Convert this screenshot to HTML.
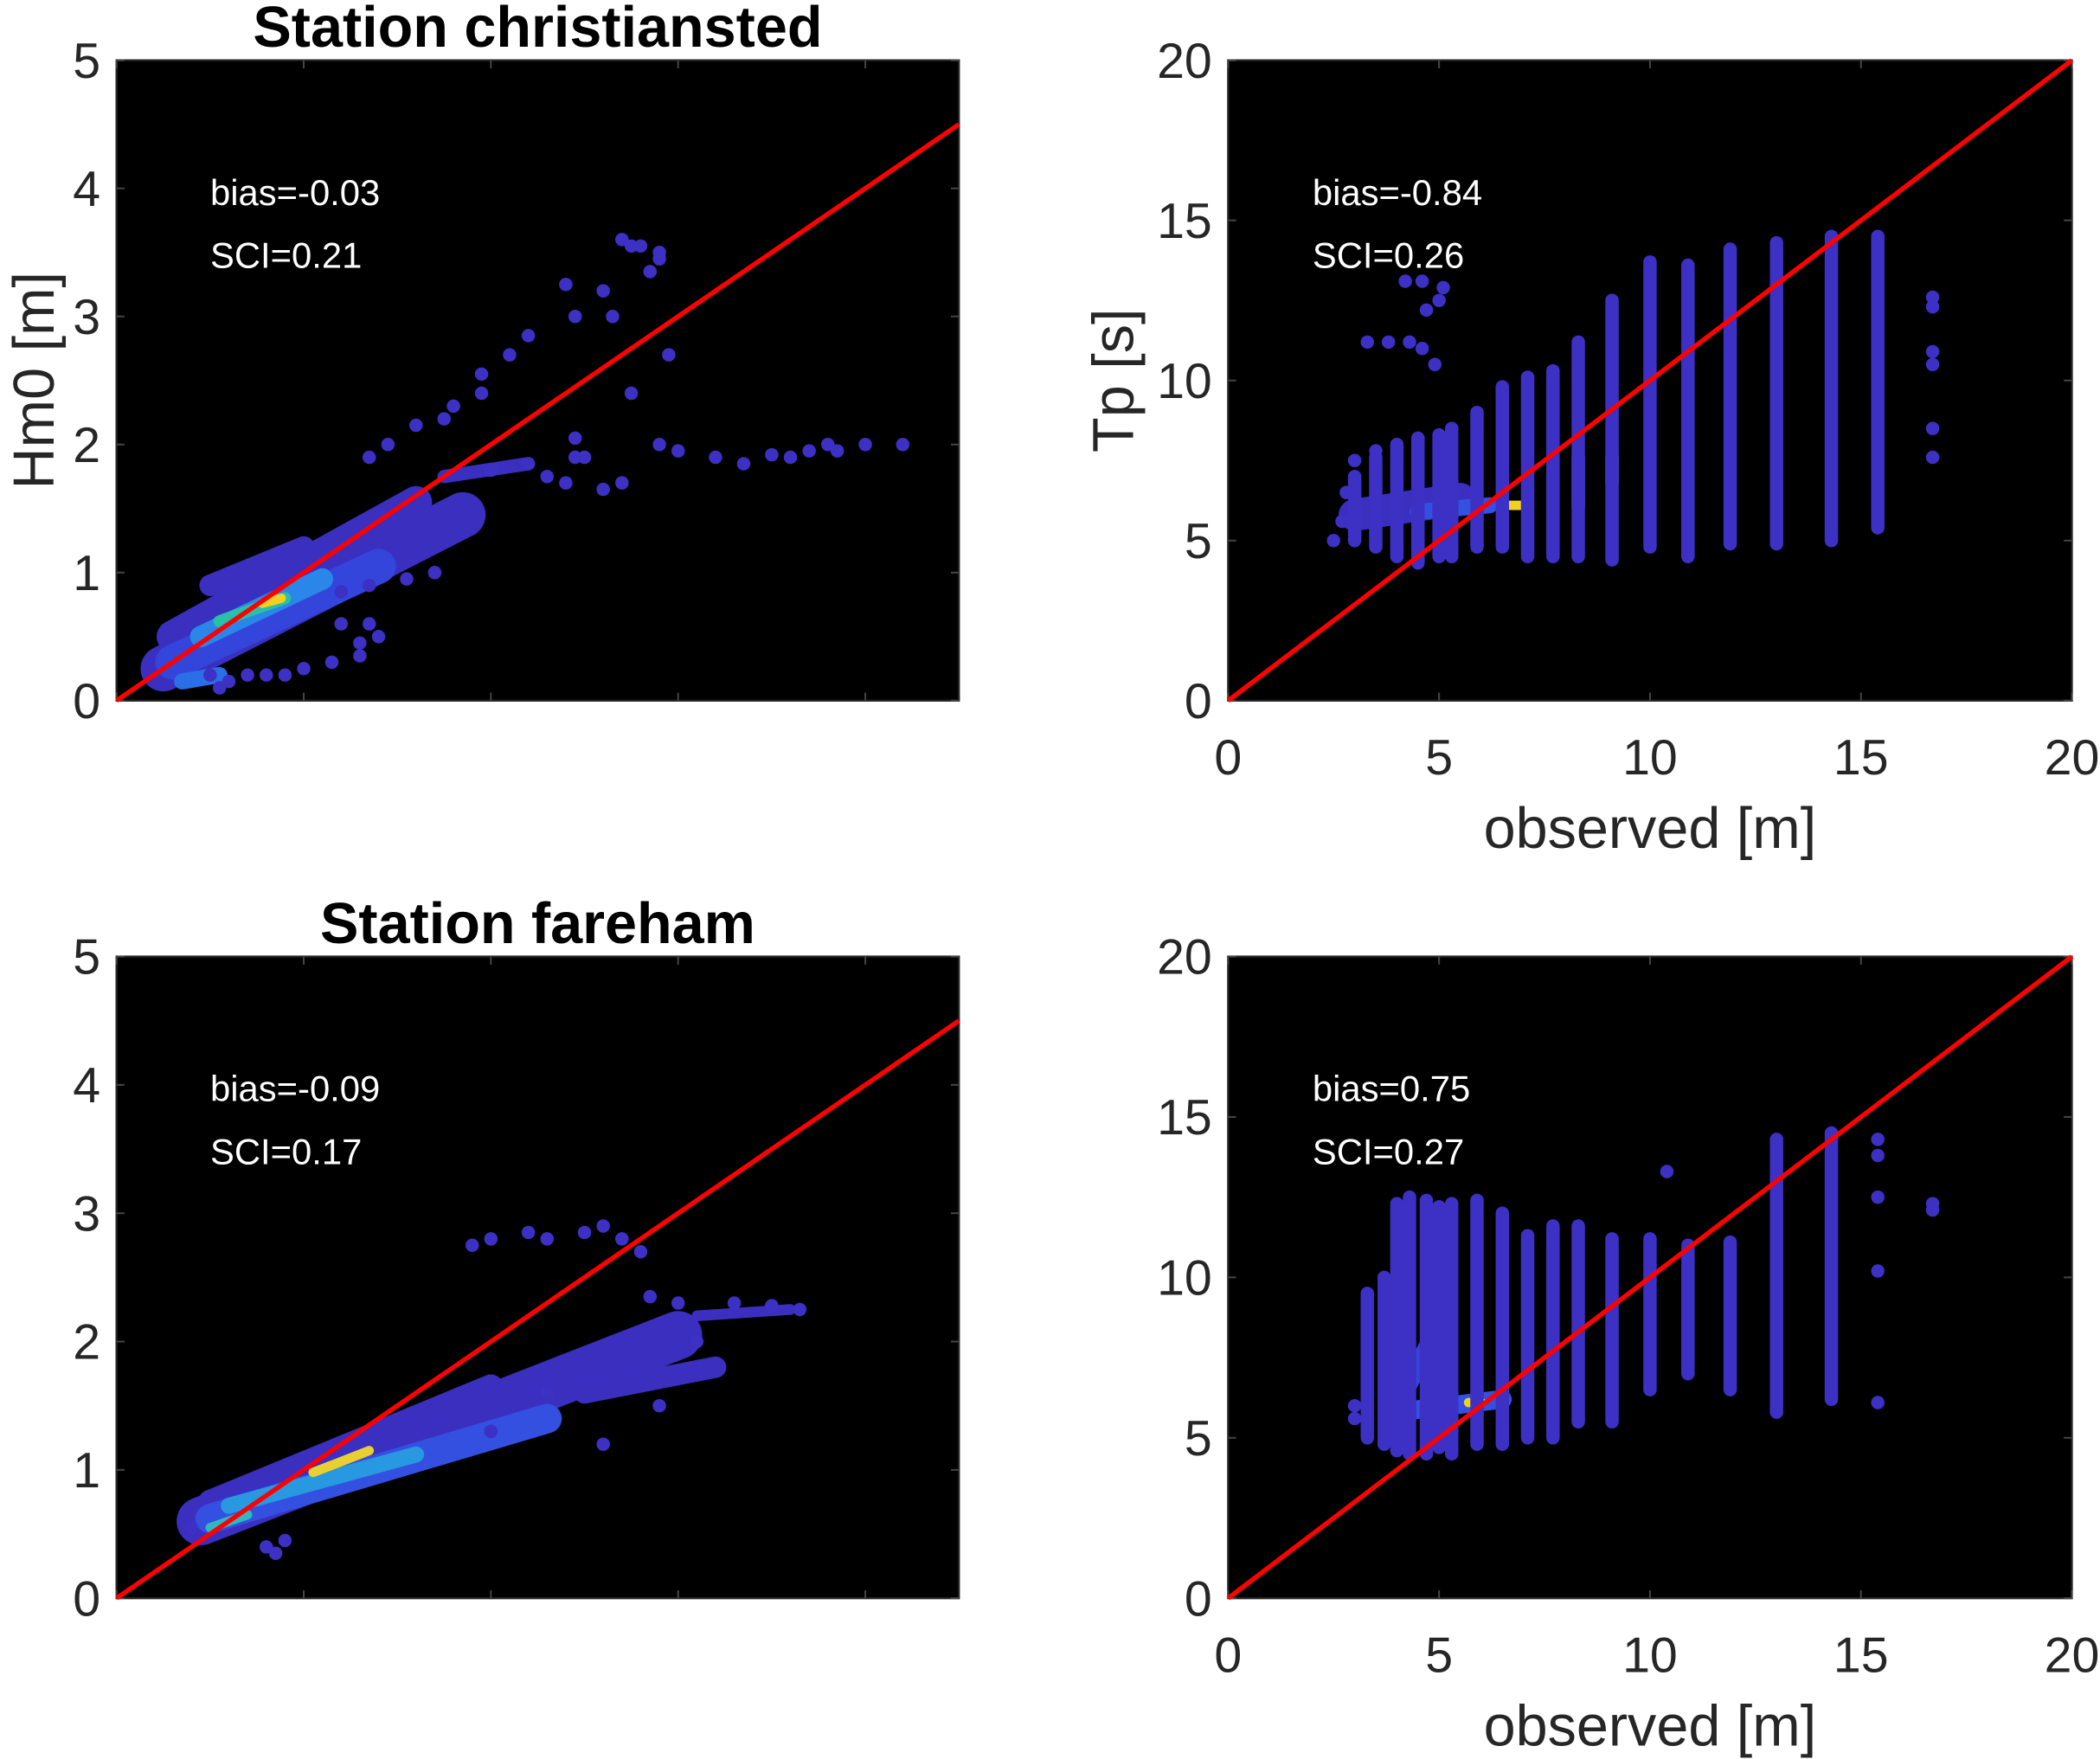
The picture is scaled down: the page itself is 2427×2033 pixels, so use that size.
<!DOCTYPE html>
<html><head><meta charset="utf-8"><style>
html,body{margin:0;padding:0;background:#fff;}
svg{display:block;font-family:"Liberation Sans",Arial,sans-serif;}
</style></head><body>
<svg id="fig" width="2427" height="2033" viewBox="0 0 1568 1313" preserveAspectRatio="none" xmlns="http://www.w3.org/2000/svg"></svg>
<script>
// ---- data ----
const hsPoints1 = [[2.5,1.9],[2.7,1.7],[2.9,2.0],[3.0,1.95],[3.2,1.9],[3.35,1.85],[3.5,1.92],[3.6,1.9],[3.7,1.95],[3.8,2.0],[3.85,1.95],[4.0,2.0],[4.2,2.0],[2.2,1.85],[2.3,1.75],[2.4,1.7],[2.6,1.65],[2.0,1.8],
 [2.7,3.6],[2.75,3.55],[2.8,3.55],[2.9,3.45],[2.9,3.5],[2.85,3.35],[2.6,3.2],[2.4,3.25],[2.45,3.0],[2.65,3.0],[2.95,2.7],[2.75,2.4],[2.2,2.85],[2.1,2.7],[1.95,2.55],[1.95,2.4],[1.8,2.3],[1.75,2.2],[1.6,2.15],[1.45,2.0],[1.35,1.9],[2.45,2.05],[2.45,1.9],[0.9,0.2],[1.0,0.25],[0.8,0.2],[0.7,0.2],[1.15,0.3],[1.3,0.35],[1.35,0.6],[1.3,0.45],[0.55,0.1],[0.6,0.15],[1.4,0.5],[1.2,0.6],[0.5,0.2],[1.55,0.95],[1.35,0.9],[1.2,0.85],[1.7,1.0]];
const hsBands1 = [[0.25,0.25,1.85,1.45,34,'#3b2fc0'],[0.3,0.5,1.6,1.55,24,'#3b2fc0'],[0.5,0.9,1.0,1.2,16,'#3b2fc0'],[0.3,0.3,1.4,1.05,26,'#3345db'],[0.45,0.5,1.1,0.95,16,'#2a86e8'],[0.55,0.62,0.9,0.8,9,'#27c0a8'],[0.78,0.76,0.88,0.8,7,'#f0d020'],[1.75,1.75,2.2,1.85,10,'#3b2fc0'],[0.35,0.15,0.55,0.2,12,'#2a6ee8']];
const hsPoints2 = [[2.0,2.8],[1.9,2.75],[2.2,2.85],[2.3,2.8],[2.5,2.85],[2.6,2.9],[2.7,2.8],[2.8,2.7],[2.85,2.35],[3.0,2.3],[3.3,2.3],[3.5,2.28],[3.65,2.25],[0.8,0.4],[0.85,0.35],[0.9,0.45],[2.0,1.3],[2.3,1.6],[2.6,1.2],[2.9,1.5],[3.1,2.0],[0.4,0.55]];
const hsBands2 = [[0.45,0.6,3.0,2.05,36,'#3b2fc0'],[0.5,0.75,2.0,1.65,18,'#3b2fc0'],[2.5,1.6,3.2,1.8,16,'#3b2fc0'],[0.5,0.62,2.3,1.4,22,'#3350e0'],[0.6,0.72,1.6,1.12,12,'#2898e0'],[1.05,0.98,1.35,1.15,7,'#e8d030'],[0.5,0.55,0.7,0.65,7,'#30b8c0'],[3.1,2.2,3.6,2.25,8,'#3b2fc0']];
const tpCols1 = [[5.3,4.5,8.5],[5.9,4.8,9.0],[6.5,4.8,9.8],[7.1,4.5,10.1],[7.7,4.5,10.3],[8.3,4.5,11.2],[9.1,4.4,12.5],[10.0,4.8,13.7],[10.9,4.5,13.6],[11.9,4.9,14.1],[13.0,4.9,14.3],[14.3,5.0,14.5],[15.4,5.4,14.5],
 [3.0,5.0,7.0],[3.5,4.8,7.6],[4.0,4.5,8.0],[4.5,4.3,8.2],[5.0,4.5,8.3]];
const tpPoints1 = [[16.7,12.6],[16.7,12.3],[16.7,10.9],[16.7,10.5],[16.7,8.5],[16.7,7.6],[2.5,5.0],[3.3,11.2],[3.8,11.2],[4.3,11.2],[4.6,11.0],[4.9,10.5],[4.2,13.1],[4.6,13.1],[5.1,12.9],[5.0,12.5],[4.7,12.2],[3.5,7.8],[3.0,7.5],[2.8,6.5],[2.7,5.6]];
const tpBlobs1 = [[3.0,5.8,5.5,6.3,24,'#3b2fc0'],[4.5,5.9,6.2,6.1,12,'#3350e0'],[8.3,6.0,8.3,7.6,10,'#2a86e8'],[9.1,6.8,9.1,7.6,10,'#2fb0c8'],[6.5,6.1,7.1,6.1,7,'#f0d020']];
const tpCols2 = [[5.3,4.5,12.3],[5.9,4.8,12.4],[6.5,4.8,12.0],[7.1,5.0,11.3],[7.7,5.0,11.6],[8.3,5.5,11.6],[9.1,5.5,11.2],[10.0,6.5,11.2],[10.9,7.0,11.0],[11.9,6.5,11.1],[13.0,5.8,14.3],[14.3,6.2,14.5],
 [3.3,5.0,9.5],[3.7,4.8,10.0],[4.0,4.6,12.3],[4.3,4.5,12.5],[4.7,4.5,12.4],[5.0,4.7,12.2]];
const tpPoints2 = [[15.4,6.1],[15.4,10.2],[15.4,12.5],[15.4,14.3],[15.4,13.8],[16.7,12.3],[16.7,12.1],[10.4,13.3],[3.0,6.0],[3.0,5.6]];
const tpBlobs2 = [[4.0,5.8,6.5,6.2,14,'#3350e0'],[4.2,6.5,4.8,8.0,14,'#3345db'],[5.7,6.1,6.0,6.1,7,'#f0d020']];
const hsTicks = [0,1,2,3,4,5];
const tpTicks = [0,5,10,15,20];

const NS='http://www.w3.org/2000/svg';
const svg=document.getElementById('fig');
function el(tag,attrs,parent){const e=document.createElementNS(NS,tag);for(const k in attrs)e.setAttribute(k,attrs[k]);(parent||svg).appendChild(e);return e;}
function txt(s,attrs){const t=el('text',attrs);t.textContent=s;return t;}

function panel(name,L,R,T,B,xmax,ymax,yt,xt,xlabels,bands,cols,pts,bias,sci,ylabel,xlabel,title,annX){
  const g=el('g',{});
  
  
  const sx=v=>L+(R-L)*v/xmax, sy=v=>B-(B-T)*v/ymax;
  const bg=el('rect',{x:L,y:T,width:R-L,height:B-T,fill:'#000',stroke:'#262626','stroke-width':1.5},g);
  
  
  yt.forEach(v=>{el('line',{x1:L,x2:L+6,y1:sy(v),y2:sy(v),stroke:'#444','stroke-width':1.3},g);el('line',{x1:R,x2:R-6,y1:sy(v),y2:sy(v),stroke:'#444','stroke-width':1.3},g);
    const t=txt(String(v),{x:L-12,y:sy(v)+13,'text-anchor':'end','font-size':37,fill:'#262626'});
    
    });
  xt.forEach(v=>{el('line',{x1:sx(v),x2:sx(v),y1:B,y2:B-6,stroke:'#444','stroke-width':1.3},g);el('line',{x1:sx(v),x2:sx(v),y1:T,y2:T+6,stroke:'#444','stroke-width':1.3},g);
    if(xlabels){const t=txt(String(v),{x:sx(v),y:B+55,'text-anchor':'middle','font-size':37,fill:'#262626'});
    
    }});
  bands.forEach(b=>{const l=el('line',{x1:sx(b[0]),y1:sy(b[1]),x2:sx(b[2]),y2:sy(b[3]),stroke:b[5],'stroke-width':b[4],'stroke-linecap':'round'},g);
    
    });
  cols.forEach(c=>{const l=el('line',{x1:sx(c[0]),y1:sy(c[1]),x2:sx(c[0]),y2:sy(c[2]),stroke:'#3d30c4','stroke-width':10,'stroke-linecap':'round'},g);
    
    });
  pts.forEach(p=>{const c=el('circle',{cx:sx(p[0]),cy:sy(p[1]),r:5,fill:'#3d30c4'},g);
    
    });
  const ln=el('line',{x1:sx(0),y1:sy(0),x2:sx(xmax),y2:sy(Math.min(xmax,ymax)),stroke:'#f00','stroke-width':3.5},g);
  
  
  const t1=txt(bias,{x:L+annX,y:T+108,'font-size':27,fill:'#fff'});
  
  
  const t2=txt(sci,{x:L+annX,y:T+155,'font-size':27,fill:'#fff'});
  
  
  if(ylabel){const cy=(T+B)/2;const xx=L<500?40:846;const t=txt(ylabel,{x:xx,y:cy,'text-anchor':'middle','font-size':43,fill:'#262626',transform:`rotate(-90 ${xx} ${cy})`});
    
    }
  if(xlabel){const t=txt(xlabel,{x:(L+R)/2,y:B+110,'text-anchor':'middle','font-size':43,fill:'#262626'});
    
    }
  if(title){const t=txt(title,{x:(L+R)/2,y:T-10,'text-anchor':'middle','font-size':43,'font-weight':'bold',fill:'#000'});
    
    }
}
panel('hm0-panel-christiansted',87,716,45,523,4.5,5,hsTicks,[0,1,2,3,4],false,hsBands1,[],hsPoints1,'bias=-0.03','SCI=0.21','Hm0 [m]',null,'Station christiansted',70);
panel('tp-panel-christiansted',917,1547,45,523,20,20,tpTicks,tpTicks,true,tpBlobs1,tpCols1,tpPoints1,'bias=-0.84','SCI=0.26','Tp [s]','observed [m]',null,63);
panel('hm0-panel-fareham',87,716,714,1193,4.5,5,hsTicks,[0,1,2,3,4],false,hsBands2,[],hsPoints2,'bias=-0.09','SCI=0.17',null,null,'Station fareham',70);
panel('tp-panel-fareham',917,1547,714,1193,20,20,tpTicks,tpTicks,true,tpBlobs2,tpCols2,tpPoints2,'bias=0.75','SCI=0.27',null,'observed [m]',null,63);
</script>
</body></html>
